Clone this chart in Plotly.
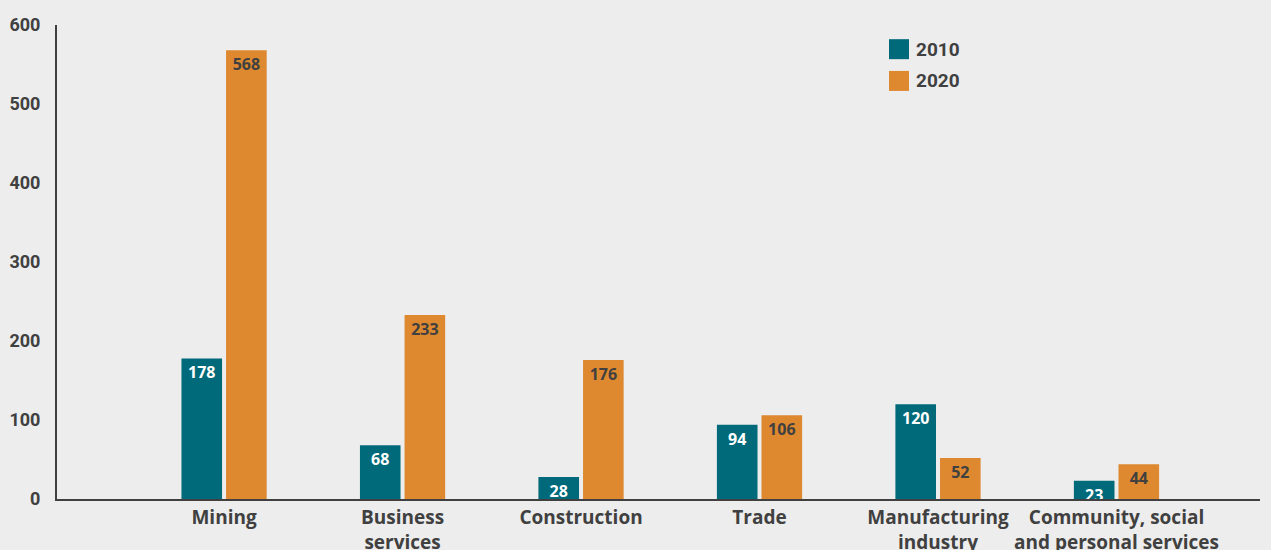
import plotly.graph_objects as go

categories = ["Mining", "Business<br>services", "Construction", "Trade",
              "Manufacturing<br>industry", "Community, social<br>and personal services"]
series_names = ["2010", "2020"]
values_2010 = [178, 68, 28, 94, 120, 23]
values_2020 = [568, 233, 176, 106, 52, 44]
y_ticks = [0, 100, 200, 300, 400, 500, 600]

teal = "#006a7a"
orange = "#de882f"
dark = "#404040"
bg = "#ededed"

fig = go.Figure()
for name, vals, col, tcol in [(series_names[0], values_2010, teal, "white"),
                              (series_names[1], values_2020, orange, dark)]:
    fig.add_trace(go.Bar(
        name=name, x=categories, y=vals, marker=dict(color=col, line=dict(width=0)),
        text=[str(v) for v in vals], textposition="inside", insidetextanchor="end",
        textangle=0, constraintext="none",
        textfont=dict(family="Open Sans, sans-serif", size=16, color=tcol, weight="bold"),
        showlegend=False, hoverinfo="skip"))

# legend drawn as layout shapes/annotations
legend_y = [0.949, 0.882]
shapes = []
annotations = []
for name, col, yy in zip(series_names, [teal, orange], legend_y):
    shapes.append(dict(type="rect", xref="paper", yref="paper",
                       x0=(889 - 57) / 1203, x1=(909 - 57) / 1203,
                       y0=yy - 10 / 474, y1=yy + 10 / 474,
                       fillcolor=col, line=dict(width=0)))
    annotations.append(dict(xref="paper", yref="paper", x=(914 - 57) / 1203, y=yy,
                            text=name, showarrow=False, xanchor="left", yanchor="middle",
                            font=dict(family="Roboto, sans-serif", size=19, color=dark,
                                      weight="bold")))

fig.update_layout(
    width=1271, height=550,
    paper_bgcolor=bg, plot_bgcolor=bg,
    margin=dict(l=57, r=11, t=25, b=51, autoexpand=False),
    barmode="group", bargap=0.5, bargroupgap=0.09,
    uniformtext=dict(minsize=16, mode="show"),
    shapes=shapes, annotations=annotations,
    xaxis=dict(type="category", range=[-0.936, 5.804], showgrid=False,
               showline=True, linecolor=dark, linewidth=2, ticks="",
               automargin=False,
               tickfont=dict(family="Open Sans, sans-serif", size=19, color=dark, weight="bold"),
               fixedrange=True),
    yaxis=dict(range=[0, 600], tickvals=y_ticks, showgrid=False, zeroline=False,
               showline=True, linecolor=dark, linewidth=2, ticks="",
               ticklabelstandoff=11, automargin=False,
               tickfont=dict(family="Roboto, sans-serif", size=18, color=dark, weight="bold"),
               fixedrange=True),
)

fig.write_html("out.html")
